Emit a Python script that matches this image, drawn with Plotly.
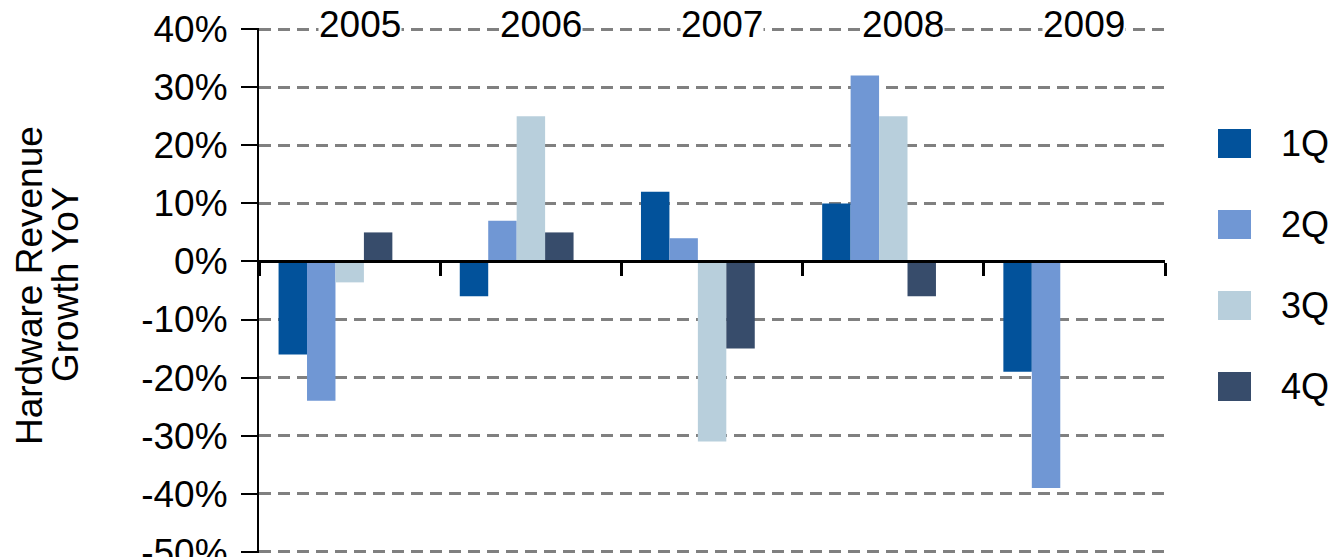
import plotly.graph_objects as go

# Data
years = ["2005", "2006", "2007", "2008", "2009"]
quarters = ["1Q", "2Q", "3Q", "4Q"]
q1 = [-0.16, -0.06, 0.12, 0.10, -0.19]
q2 = [-0.24, 0.07, 0.04, 0.32, -0.39]
q3 = [-0.036, 0.25, -0.31, 0.25, None]
q4 = [0.05, 0.05, -0.15, -0.06, None]
y_ticks = [-0.5, -0.4, -0.3, -0.2, -0.1, 0, 0.1, 0.2, 0.3, 0.4]
y_labels = ["-50%", "-40%", "-30%", "-20%", "-10%", "0%", "10%", "20%", "30%", "40%"]
y_title = ["Hardware Revenue", "Growth YoY"]

COLORS = ["#02529b", "#7097d4", "#b8cfdc", "#374c6b"]
FONT = "Liberation Sans, Arial, sans-serif"
FS = 37

# page body has an 8px margin, so everything is laid out in page pixels minus 8
OFF = 8
W, H = 1337 - OFF, 557 - OFF
PLOT_L, PLOT_R, PLOT_T, PLOT_B = 259, 1165, 28, 553
L, T = PLOT_L - OFF, PLOT_T - OFF
R, B = W - (PLOT_R - OFF), H - (PLOT_B - OFF)
PW, PH = W - L - R, H - T - B
Y_LO, Y_HI = -0.502, 0.402


def px_x(p):
    return (p - PLOT_L) / PW


def px_y(p):
    return (PLOT_B - p) / PH


fig = go.Figure()

# bars: 5 slots per year, the 5th one left empty like the original
bar_w = 0.157
start = -0.392
for i, (name, vals) in enumerate(zip(quarters, [q1, q2, q3, q4])):
    fig.add_trace(go.Bar(
        x=years,
        y=vals,
        name=name,
        marker=dict(color=COLORS[i], line=dict(width=0)),
        width=bar_w,
        offset=start + i * bar_w,
        showlegend=False,
    ))

# year labels along the top
for i, yr in enumerate(years):
    fig.add_annotation(
        x=i, y=0.40, xref="x", yref="y",
        text=yr, showarrow=False, xshift=10, yshift=5,
        bgcolor="white", borderpad=0,
        font=dict(size=FS, color="black", family=FONT),
    )

# y axis title as two rotated lines (tighter spacing than plotly's title)
for cx, line in zip([29, 65], y_title):
    fig.add_annotation(
        x=px_x(cx), y=px_y(285), xref="paper", yref="paper",
        text=line, showarrow=False, textangle=-90,
        xanchor="center", yanchor="middle",
        font=dict(size=FS, color="black", family=FONT),
    )

# manual legend with big squares
for i, name in enumerate(quarters):
    top = 129 + i * 81
    fig.add_shape(
        type="rect", xref="paper", yref="paper",
        x0=px_x(1218), x1=px_x(1251), y0=px_y(top + 29), y1=px_y(top),
        fillcolor=COLORS[i], line=dict(width=0),
    )
    fig.add_annotation(
        x=px_x(1280), y=px_y(top + 14.5), xref="paper", yref="paper",
        text=name, showarrow=False, xanchor="left", yanchor="middle",
        borderpad=0,
        font=dict(size=36, color="black", family=FONT),
    )

zero_pos = -Y_LO / (Y_HI - Y_LO)

fig.update_layout(
    width=W, height=H,
    margin=dict(l=L, r=R, t=T, b=B, autoexpand=False),
    paper_bgcolor="white",
    plot_bgcolor="white",
    font=dict(family=FONT, size=FS, color="black"),
    showlegend=False,
    xaxis=dict(
        type="category",
        range=[-0.5, 4.5],
        anchor="free",
        position=zero_pos,
        automargin=False,
        showline=True, linecolor="black", linewidth=3,
        ticks="outside", tickson="boundaries", ticklen=13,
        tickwidth=2.5, tickcolor="black",
        showticklabels=False, showgrid=False,
    ),
    yaxis=dict(
        range=[Y_LO, Y_HI],
        tickvals=y_ticks,
        ticktext=y_labels,
        ticklabeloverflow="allow",
        automargin=False,
        showline=True, linecolor="black", linewidth=2,
        ticks="outside", ticklen=16, tickwidth=2, tickcolor="black",
        ticklabelstandoff=6,
        showgrid=True, gridcolor="#808080", gridwidth=2.5,
        griddash="12px,7px",
        zeroline=False,
        tickfont=dict(size=FS),
    ),
)

fig.write_html("out.html")
